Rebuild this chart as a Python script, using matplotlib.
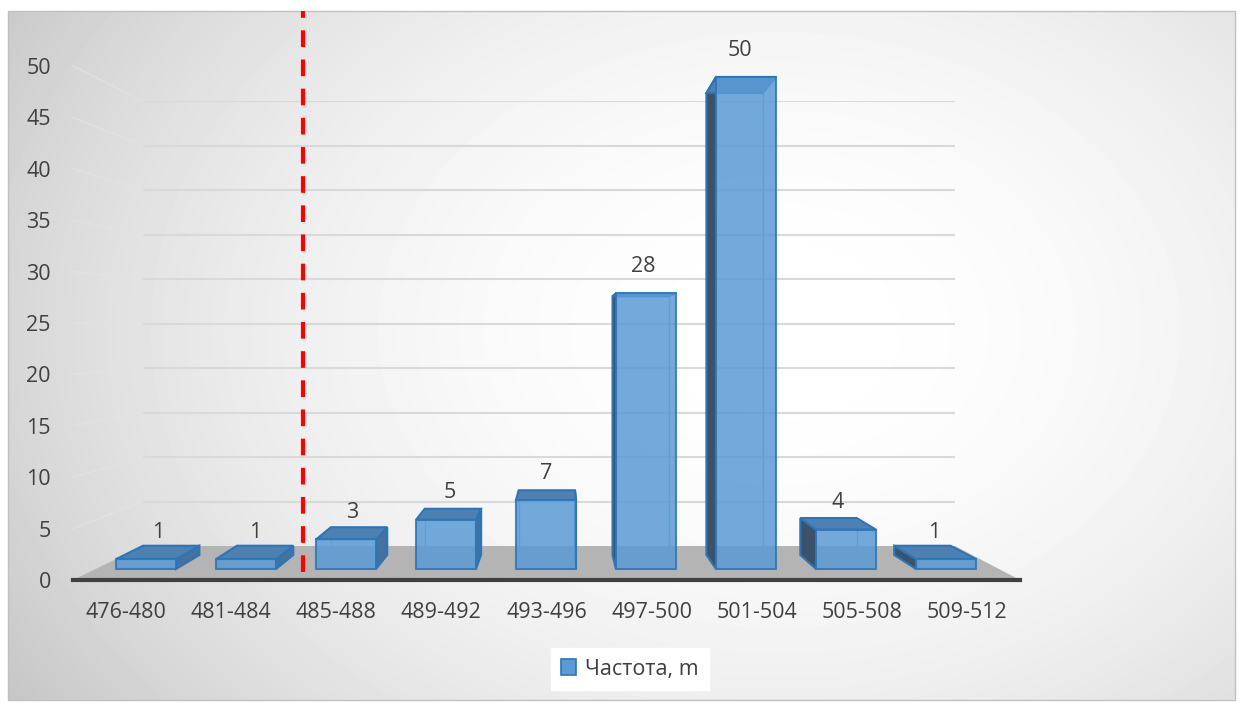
import numpy as np
import matplotlib.pyplot as plt
from matplotlib.patches import Polygon, Rectangle, Patch

categories = ['476-480', '481-484', '485-488', '489-492', '493-496',
              '497-500', '501-504', '505-508', '509-512']
counts = [1, 1, 3, 5, 7, 28, 50, 4, 1]
y_ticks = [0, 5, 10, 15, 20, 25, 30, 35, 40, 45, 50]
legend_label = 'Частота, m'
cut_position = 1.57  # red dashed boundary, in bar units

W, H = 1240, 704
plt.rcParams['font.family'] = ['Open Sans', 'DejaVu Sans']
TXT = '#404040'
FS = 15.5

fig = plt.figure(figsize=(W / 100, H / 100), dpi=100)


def box(x0, y0, x1, y1):
    # pixel box (origin top-left) -> figure fraction rect
    return [x0 / W, 1 - y1 / H, (x1 - x0) / W, (y1 - y0) / H]


# background with soft radial gradient
bg = fig.add_axes([0, 0, 1, 1])
bg.set_xlim(0, W)
bg.set_ylim(H, 0)
bg.axis('off')
xx, yy = np.meshgrid(np.linspace(8, 1235, 300), np.linspace(11, 700, 200))
d = np.sqrt(((xx - 780) / 700) ** 2 + ((yy - 330) / 520) ** 2)
shade = np.clip(1 - 0.13 * d ** 2, 0.78, 1)
bg.imshow(shade, cmap='gray', vmin=0, vmax=1, extent=[8, 1235, 700, 11],
          aspect='auto', interpolation='bilinear')
bg.add_patch(Rectangle((8, 11), 1227, 689, fill=False, ec='#c0c0c0', lw=1))

# back wall with gridlines
back = fig.add_axes(box(143, 101, 955, 546))
back.set_xlim(-0.5, 8.5)
back.set_ylim(0, 50)
back.axis('off')
back.hlines(y_ticks[1:], -0.5, 8.5, color='#d9d9d9', lw=1.5)

# front frame: ticks and baseline
frame = fig.add_axes(box(73, 66, 1020, 580))
frame.set_xlim(-0.5, 8.5)
frame.set_ylim(0, 50)
frame.patch.set_visible(False)
for s in ['top', 'right', 'left']:
    frame.spines[s].set_visible(False)
frame.spines['bottom'].set_color(TXT)
frame.spines['bottom'].set_linewidth(3)
frame.set_yticks(y_ticks)
frame.set_yticklabels([str(v) for v in y_ticks], fontsize=FS, color=TXT)
frame.set_xticks(range(len(categories)))
frame.set_xticklabels(categories, fontsize=FS, color=TXT)
frame.tick_params(axis='y', length=0, pad=16)
frame.tick_params(axis='x', length=0, pad=16)


def to_bg(ax, pts):
    return bg.transData.inverted().transform(ax.transData.transform(pts))


# floor and side connectors
floor = np.vstack([to_bg(frame, [(-0.5, 0), (8.5, 0)]),
                   to_bg(back, [(8.5, 0), (-0.5, 0)])])
bg.add_patch(Polygon(floor, closed=True, fc='#b4b4b4', ec='none'))
for v in y_ticks[1:]:
    p = np.vstack([to_bg(frame, [(-0.5, v)]), to_bg(back, [(-0.5, v)])])
    bg.plot(p[:, 0], p[:, 1], color='#e4e4e4', lw=1, alpha=0.7)

# bars
px_unit = 9.84
bars = fig.add_axes(box(96, 11, 996, 580))
bars.set_xlim(-0.5, 8.5)
bars.set_ylim(-11 / px_unit, 558 / px_unit)
bars.axis('off')

vp = np.array([4.13, 23.37])
k = 0.939
bw = 0.6
xs = np.arange(len(categories))


def recede(p):
    return vp + k * (np.asarray(p, float) - vp)


for i, v in zip(xs, counts):
    x0, x1 = i - bw / 2, i + bw / 2
    f = np.array([(x0, 0), (x1, 0), (x1, v), (x0, v)])
    b = recede(f)
    bars.add_patch(Polygon(b, closed=True, fill=False, ec='#6fb0ee', lw=1, zorder=1))
    if i < vp[0]:
        side = [f[1], f[2], b[2], b[1]]
        sc = '#44719e'
    else:
        side = [f[0], f[3], b[3], b[0]]
        sc = '#3a536b'
    bars.add_patch(Polygon(side, closed=True, fc=sc, ec='#2e75b6', lw=1.5, zorder=2))
    bars.add_patch(Polygon([f[3], f[2], b[2], b[3]], closed=True, fc='#4f80b2',
                           ec='#2e75b6', lw=1.5, zorder=3))
    lx = (i + recede((i, 0))[0]) / 2
    bars.text(lx, v + 27 / px_unit, str(v), ha='center', va='center',
              fontsize=FS, color=TXT, zorder=6)

bars.bar(xs, counts, width=bw, color='#5b9bd5', alpha=0.85,
         edgecolor='#2e75b6', linewidth=1.5, zorder=4)

bars.plot([cut_position, cut_position], [-3 / px_unit, 558 / px_unit],
          color='#ff0000', lw=3, ls=(0, (4, 3)), zorder=7, clip_on=False)

fig.legend(handles=[Patch(fc='#5b9bd5', ec='#2e75b6', lw=1.2)],
           labels=[legend_label], loc='center',
           bbox_to_anchor=(630 / W, 1 - 669 / H), fontsize=FS,
           frameon=True, fancybox=False, facecolor='white', edgecolor='white',
           framealpha=1, handlelength=0.7, handleheight=0.7,
           handletextpad=0.4, borderpad=0.5, labelcolor=TXT)

fig.savefig('out.png', dpi=100)
